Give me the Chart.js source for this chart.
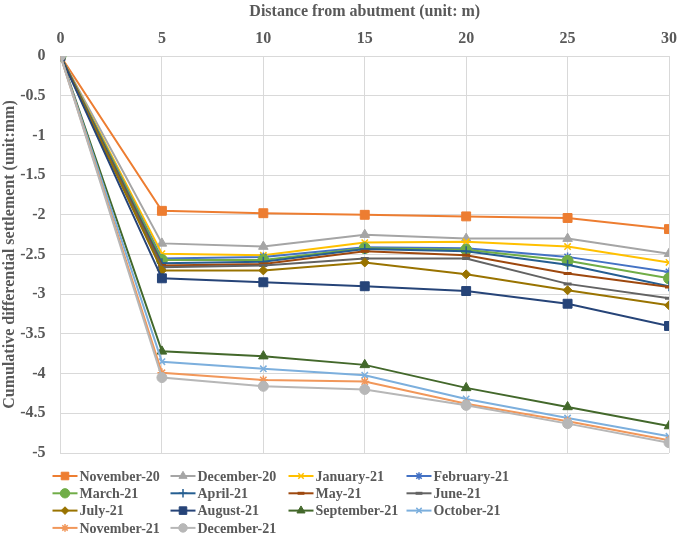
<!DOCTYPE html>
<html>
<head>
<meta charset="utf-8">
<script src="https://cdn.jsdelivr.net/npm/chart.js@4.4.0/dist/chart.umd.min.js"></script>
<style>
  html, body { margin: 0; padding: 0; background: #ffffff; }
  #wrap { width: 685px; height: 539px; position: relative; }
</style>
</head>
<body>
<div id="wrap"><canvas id="settlement"></canvas></div>
<script>
// distance from abutment (m)
var distances = [0, 5, 10, 15, 20, 25, 30];
var xTicks = [0, 5, 10, 15, 20, 25, 30];

var seriesNames = ["November-20", "December-20", "January-21", "February-21",
                   "March-21", "April-21", "May-21", "June-21",
                   "July-21", "August-21", "September-21", "October-21",
                   "November-21", "December-21"];

// cumulative differential settlement (mm)
var nov20 = [0, -1.95, -1.98, -2.00, -2.02, -2.04, -2.18];
var dec20 = [0, -2.36, -2.40, -2.25, -2.30, -2.30, -2.49];
var jan21 = [0, -2.49, -2.51, -2.35, -2.34, -2.40, -2.60];
var feb21 = [0, -2.55, -2.53, -2.41, -2.42, -2.53, -2.72];
var mar21 = [0, -2.57, -2.57, -2.42, -2.44, -2.58, -2.80];
var apr21 = [0, -2.61, -2.59, -2.43, -2.46, -2.63, -2.90];
var may21 = [0, -2.64, -2.62, -2.46, -2.51, -2.74, -2.91];
var jun21 = [0, -2.66, -2.64, -2.55, -2.55, -2.87, -3.05];
var jul21 = [0, -2.70, -2.70, -2.60, -2.75, -2.95, -3.14];
var aug21 = [0, -2.80, -2.85, -2.90, -2.96, -3.12, -3.40];
var sep21 = [0, -3.72, -3.78, -3.89, -4.18, -4.42, -4.66];
var oct21 = [0, -3.85, -3.94, -4.02, -4.32, -4.56, -4.79];
var nov21 = [0, -3.99, -4.08, -4.10, -4.38, -4.60, -4.84];
var dec21 = [0, -4.05, -4.16, -4.20, -4.40, -4.63, -4.87];

var allValues = [nov20, dec20, jan21, feb21, mar21, apr21, may21, jun21,
                 jul21, aug21, sep21, oct21, nov21, dec21];

// excel-ish palette and markers
var colors = ["#ED7D31", "#A5A5A5", "#FFC000", "#4472C4", "#70AD47", "#255E91", "#9E480E",
              "#636363", "#997300", "#264478", "#43682B", "#7CAFDD", "#F1975A", "#B7B7B7"];
var markers = ["rect", "triangle", "crossRot", "star", "circle", "cross", "line",
               "line", "rectRot", "rect", "triangle", "crossRot", "star", "circle"];
var markerSize = [6.3, 5.5, 4.5, 4.5, 5.5, 5, 4, 4, 4.5, 6.3, 5.5, 4.5, 4.5, 5];

var textColor = "#595959";
var gridColor = "#D9D9D9";
var fontFamily = "'Liberation Serif', 'Times New Roman', serif";

var datasets = [];
for (var i = 0; i < seriesNames.length; i++) {
    var pts = [];
    for (var j = 0; j < distances.length; j++) {
        pts.push({x: distances[j], y: allValues[i][j]});
    }
    var isLine = markers[i] == "line" || markers[i] == "cross" || markers[i] == "crossRot" || markers[i] == "star";
    datasets.push({
        label: seriesNames[i],
        data: pts,
        borderColor: colors[i],
        backgroundColor: colors[i],
        pointBackgroundColor: colors[i],
        pointBorderColor: colors[i],
        pointStyle: markers[i],
        pointRadius: markerSize[i],
        pointBorderWidth: markers[i] == "line" ? 3 : (isLine ? 1.5 : 1),
        borderWidth: 2,
        tension: 0,
        order: seriesNames.length - i   // later months on top, like excel
    });
}

// legend drawn as a 4 column grid under the plot
var gridLegend = {
    id: "gridLegend",
    afterDraw: function(chart) {
        var ctx = chart.ctx;
        var area = chart.chartArea;
        var colW = 118;
        var rowH = 17.3;
        var x0 = area.left - 8;
        var y0 = area.bottom + 23;
        ctx.save();
        ctx.font = "bold 14px " + fontFamily;
        ctx.textBaseline = "middle";
        ctx.textAlign = "left";
        chart.data.datasets.forEach(function(ds, k) {
            var cx = x0 + (k % 4) * colW;
            var cy = y0 + Math.floor(k / 4) * rowH;
            ctx.strokeStyle = ds.borderColor;
            ctx.lineWidth = 2;
            ctx.beginPath();
            ctx.moveTo(cx, cy);
            ctx.lineTo(cx + 25, cy);
            ctx.stroke();
            ctx.fillStyle = ds.pointBackgroundColor;
            ctx.strokeStyle = ds.pointBorderColor;
            ctx.lineWidth = ds.pointBorderWidth;
            Chart.helpers.drawPoint(ctx, {
                pointStyle: ds.pointStyle,
                radius: ds.pointRadius * 0.85,
                rotation: 0,
                borderWidth: ds.pointBorderWidth
            }, cx + 12.5, cy);
            ctx.fillStyle = textColor;
            ctx.fillText(ds.label, cx + 27, cy + 1);
        });
        ctx.restore();
    }
};

var ctx = document.getElementById("settlement");
var graph = new Chart(ctx, {
    type: "line",
    data: { datasets: datasets },
    plugins: [gridLegend],
    options: {
        responsive: true,
        maintainAspectRatio: false,
        animation: false,
        layout: { padding: { left: 0, right: 9.5, top: 0, bottom: 86 } },
        plugins: {
            legend: { display: false },
            tooltip: { enabled: false }
        },
        scales: {
            x: {
                type: "linear",
                position: "top",
                min: 0,
                max: 30,
                afterBuildTicks: function(scale) {
                    scale.ticks = xTicks.map(function(v) { return {value: v}; });
                },
                grid: { color: gridColor, drawTicks: false },
                border: { color: gridColor },
                ticks: {
                    color: textColor,
                    padding: 8,
                    font: { family: fontFamily, size: 16, weight: "bold" }
                },
                title: {
                    display: true,
                    text: "Distance from abutment (unit: m)",
                    color: textColor,
                    padding: { top: 2, bottom: 4 },
                    font: { family: fontFamily, size: 16, weight: "bold" }
                },
                afterFit: function(scale) { scale.height = 56; }
            },
            y: {
                min: -5,
                max: 0,
                ticks: {
                    stepSize: 0.5,
                    color: textColor,
                    padding: 15,
                    font: { family: fontFamily, size: 16, weight: "bold" },
                    callback: function(v) { return String(Math.round(v * 10) / 10); }
                },
                grid: { color: gridColor, drawTicks: false },
                border: { color: gridColor },
                title: {
                    display: true,
                    text: "Cumulative differential settlement (unit:mm)",
                    color: textColor,
                    padding: { top: 0, bottom: 0 },
                    font: { family: fontFamily, size: 16, weight: "bold" }
                },
                afterFit: function(scale) { scale.width = 60.5; }
            }
        }
    }
});
</script>
</body>
</html>
